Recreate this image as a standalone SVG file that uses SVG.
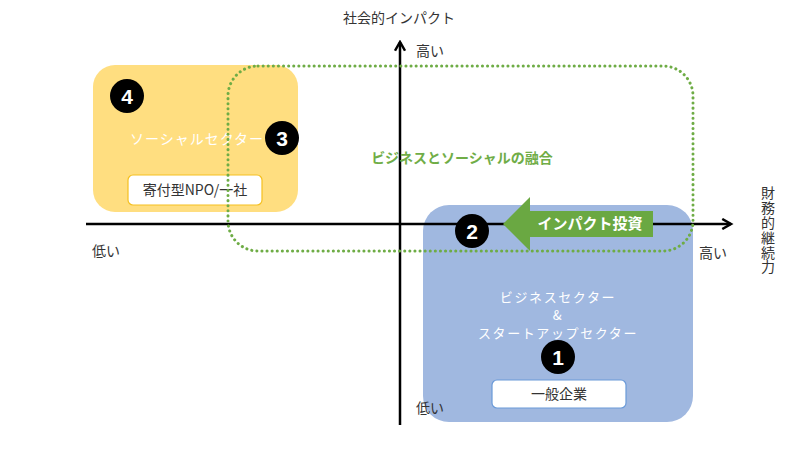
<svg xmlns="http://www.w3.org/2000/svg" width="800" height="450" viewBox="0 0 800 450">
<defs>
<style>
text{font-family:"Noto Sans CJK JP","Noto Sans",sans-serif;}
.lbl{font-size:14px;fill:#333;}
.wt{font-size:14px;fill:#fff;letter-spacing:1px;}
.wt2{font-size:13px;fill:#fff;letter-spacing:1.6px;}
.num{font-size:21px;font-weight:bold;fill:#fff;font-family:"Liberation Sans",Arial,sans-serif;}
.badge{fill:#000;}
.axis{stroke:#000;stroke-width:2.5;fill:none;}
</style>
<marker id="ah" viewBox="0 0 10 10" refX="8" refY="5" markerWidth="5" markerHeight="5" orient="auto" markerUnits="strokeWidth">
<path d="M1,1 L8,5 L1,9" fill="none" stroke="#000" stroke-width="2"/>
</marker>
</defs>
<rect width="800" height="450" fill="#fff"/>

<g id="social-sector">
<rect x="93" y="65" width="205" height="147" rx="22" fill="#FFDE80"/>
<text class="wt" x="197" y="144" text-anchor="middle">ソーシャルセクター</text>
<g id="npo">
<rect x="128" y="175" width="134" height="30" rx="5" fill="#fff" stroke="#F5C020" stroke-width="1.2"/>
<text class="lbl" x="195" y="195" text-anchor="middle">寄付型NPO/一社</text>
</g>
</g>

<g id="business-sector">
<rect x="423" y="205" width="270" height="217" rx="26" fill="#A0B8E0"/>
<text class="wt2" x="558" y="302" text-anchor="middle">ビジネスセクター</text>
<text class="wt2" x="558" y="320" text-anchor="middle">&amp;</text>
<text class="wt2" x="558" y="338" text-anchor="middle">スタートアップセクター</text>
<g id="general">
<rect x="492" y="380" width="134" height="28" rx="5" fill="#fff" stroke="#6A9AD8" stroke-width="1.2"/>
<text class="lbl" x="559" y="399" text-anchor="middle">一般企業</text>
</g>
</g>

<g id="connectors">
<line class="axis" x1="86" y1="224" x2="731" y2="224" marker-end="url(#ah)"/>
<line class="axis" x1="400" y1="425" x2="400" y2="42" marker-end="url(#ah)"/>
</g>

<g id="fusion">
<rect x="228" y="66" width="465" height="185" rx="30" fill="none" stroke="#6EAC45" stroke-width="3" stroke-dasharray="0.1 5" stroke-linecap="round"/>
<text x="462" y="163" text-anchor="middle" font-size="14" font-weight="bold" fill="#70AD47">ビジネスとソーシャルの融合</text>
</g>

<g id="impact-investment">
<polygon points="503,224 530,197 530,211 653,211 653,237 530,237 530,251" fill="#6AA842"/>
<text x="590" y="229" text-anchor="middle" font-size="15" font-weight="bold" fill="#fff">インパクト投資</text>
</g>

<g id="badge-1"><circle class="badge" cx="558" cy="357" r="17"/><text class="num" x="558" y="364.5" text-anchor="middle">1</text></g>
<g id="badge-2"><circle class="badge" cx="472" cy="231" r="17"/><text class="num" x="472" y="238.5" text-anchor="middle">2</text></g>
<g id="badge-3"><circle class="badge" cx="282" cy="138" r="17"/><text class="num" x="282" y="145.5" text-anchor="middle">3</text></g>
<g id="badge-4"><circle class="badge" cx="127" cy="96" r="17"/><text class="num" x="127" y="103.5" text-anchor="middle">4</text></g>

<g id="axis-labels">
<text class="lbl" x="399" y="23" text-anchor="middle">社会的インパクト</text>
<text class="lbl" x="430" y="56" text-anchor="middle">高い</text>
<text class="lbl" x="430" y="413" text-anchor="middle">低い</text>
<text class="lbl" x="106" y="256" text-anchor="middle">低い</text>
<text class="lbl" x="713" y="258" text-anchor="middle">高い</text>
<text class="lbl" x="768" y="186" writing-mode="vertical-rl" letter-spacing="0.8">財務的継続力</text>
</g>
</svg>
